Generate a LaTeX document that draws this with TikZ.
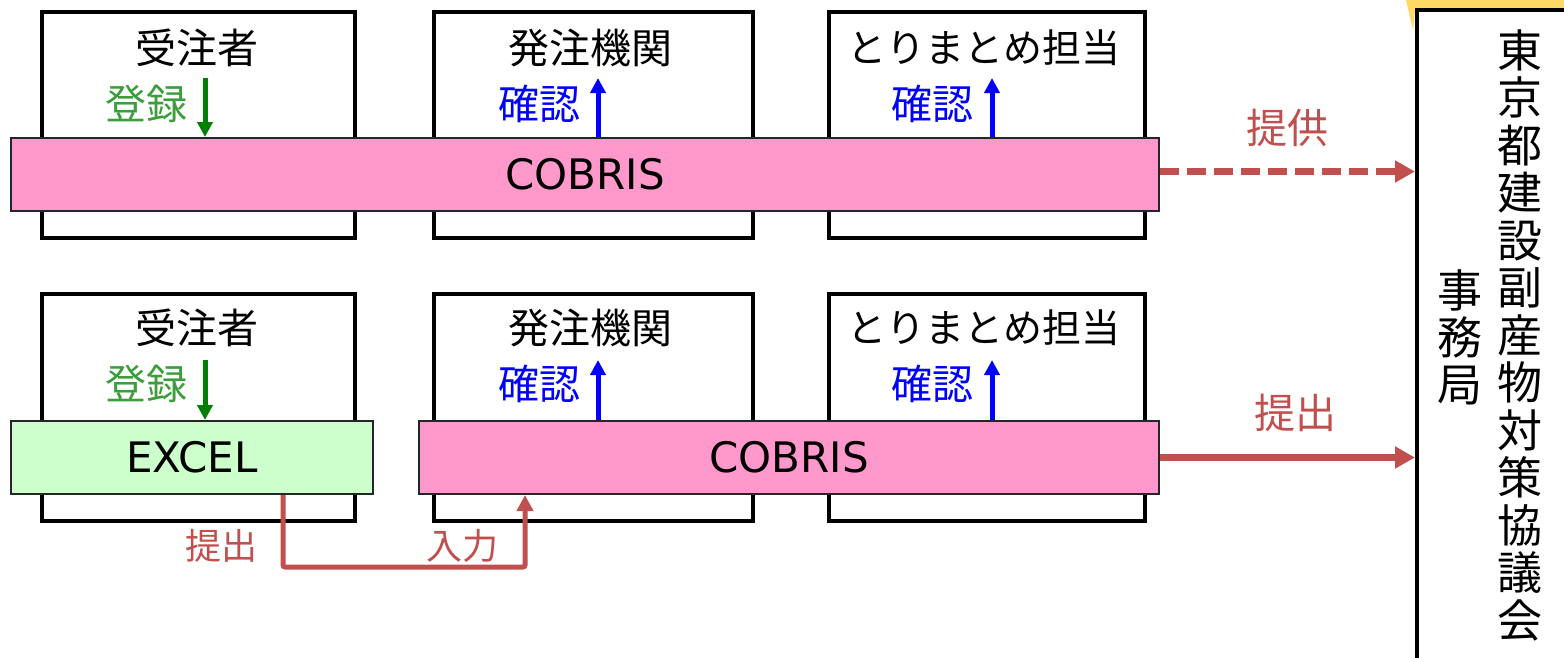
\documentclass[tikz,border=0pt]{standalone}
\usepackage{fontspec}
\setmainfont{DejaVu Sans}
\newfontfamily\jp{Noto Sans CJK JP}
\usetikzlibrary{arrows.meta}
\definecolor{pinkfill}{HTML}{FF99CC}
\definecolor{greenfill}{HTML}{CCFFCC}
\definecolor{redc}{HTML}{C0504D}
\definecolor{arrgreen}{HTML}{008000}
\definecolor{txtgreen}{HTML}{3A9E3A}
\definecolor{yellowc}{HTML}{FFD966}
\tikzset{
  actor/.style={draw=black, line width=4pt, fill=white, anchor=north west, inner sep=0pt},
  sysbar/.style={draw=black!85, line width=2pt, anchor=north west, inner sep=0pt, minimum height=73pt, font=\fontsize{42}{50}\selectfont},
  lbl/.style={font=\jp\fontsize{41}{48}\selectfont, inner sep=0pt},
  small/.style={font=\jp\fontsize{36}{42}\selectfont, inner sep=0pt, text=redc},
  greenarr/.style={draw=arrgreen, line width=5pt, -{Triangle[length=15pt,width=15pt]}},
  bluearr/.style={draw=blue, line width=5pt, -{Triangle[length=15pt,width=15pt]}},
  redarr/.style={draw=redc, line width=7pt, -{Triangle[length=20pt,width=21pt]}},
  redthin/.style={draw=redc, line width=5pt, rounded corners=2pt, -{Triangle[length=16pt,width=16pt]}}
}
\begin{document}
\begin{tikzpicture}[x=1pt,y=-1pt]
\useasboundingbox (0,0) rectangle (1564,657);
% yellow sliver behind right box
\fill[yellowc] (1406,0) -- (1564,0) -- (1564,10) -- (1415,10) -- (1413,30) -- cycle;
% right box
\node[actor, minimum width=220pt, minimum height=700pt] (jimu) at (1415,8) {};
\node[lbl, font=\jp\fontsize{45}{47.5}\selectfont, align=center] (kyogikai) at (1520,335)
  {東\\京\\都\\建\\設\\副\\産\\物\\対\\策\\協\\議\\会};
\node[lbl, font=\jp\fontsize{45}{47}\selectfont, align=center] (jimukyoku) at (1460,337) {事\\務\\局};

% top row
\node[actor, minimum width=313pt, minimum height=226pt] (a1) at (40,10) {};
\node[actor, minimum width=319pt, minimum height=226pt] (b1) at (432,10) {};
\node[actor, minimum width=316pt, minimum height=226pt] (c1) at (827,10) {};
\node[lbl] (ta1) at (197,48) {受注者};
\node[lbl] (tb1) at (590,48) {発注機関};
\node[lbl, font=\jp\fontsize{39}{48}\selectfont] (tc1) at (984,48) {とりまとめ担当};
\node[lbl, text=txtgreen] (reg1) at (146,104) {登録};
\node[lbl, text=blue] (conf1) at (539,104) {確認};
\node[lbl, text=blue] (conf2) at (932,104) {確認};
\node[sysbar, fill=pinkfill, minimum width=1148pt] (cob1) at (10,137) {COBRIS};
\coordinate (g1) at (205,78);
\coordinate (u1) at (598,78);
\coordinate (u2) at (992,78);
\draw[greenarr] (g1) -- (g1 |- cob1.north);
\draw[bluearr] (u1 |- cob1.north) -- (u1);
\draw[bluearr] (u2 |- cob1.north) -- (u2);
\draw[redarr, dash pattern=on 19pt off 8pt] ([yshift=3pt]cob1.east) -- ([yshift=3pt]cob1.east -| jimu.west);
\node[lbl, text=redc] (teikyo) at (1287,128) {提供};

% bottom row
\node[actor, minimum width=313pt, minimum height=227pt] (a2) at (40,292) {};
\node[actor, minimum width=319pt, minimum height=227pt] (b2) at (432,292) {};
\node[actor, minimum width=316pt, minimum height=227pt] (c2) at (827,292) {};
\node[lbl] (ta2) at (197,328) {受注者};
\node[lbl] (tb2) at (590,328) {発注機関};
\node[lbl, font=\jp\fontsize{39}{48}\selectfont] (tc2) at (984,328) {とりまとめ担当};
\node[lbl, text=txtgreen] (reg2) at (146,384) {登録};
\node[lbl, text=blue] (conf3) at (539,384) {確認};
\node[lbl, text=blue] (conf4) at (932,384) {確認};
\node[sysbar, fill=greenfill, minimum width=362pt] (excel) at (10,420) {EXCEL};
\node[sysbar, fill=pinkfill, minimum width=740pt] (cob2) at (418,420) {COBRIS};
\coordinate (g2) at (205,360);
\coordinate (u3) at (598,360);
\coordinate (u4) at (992,360);
\draw[greenarr] (g2) -- (g2 |- excel.north);
\draw[bluearr] (u3 |- cob2.north) -- (u3);
\draw[bluearr] (u4 |- cob2.north) -- (u4);
\draw[redarr] (cob2.east) -- (cob2.east -| jimu.west);
\node[lbl, text=redc] (teishutsu1) at (1295,413) {提出};
\coordinate (ex) at (283,493);
\coordinate (co) at (525,493);
\draw[redthin] (ex |- excel.south) -- (283,567) -- (525,567) -- (co |- cob2.south);
\node[small] (teishutsu2) at (221,546) {提出};
\node[small] (nyuryoku) at (462,546) {入力};
\end{tikzpicture}
\end{document}
